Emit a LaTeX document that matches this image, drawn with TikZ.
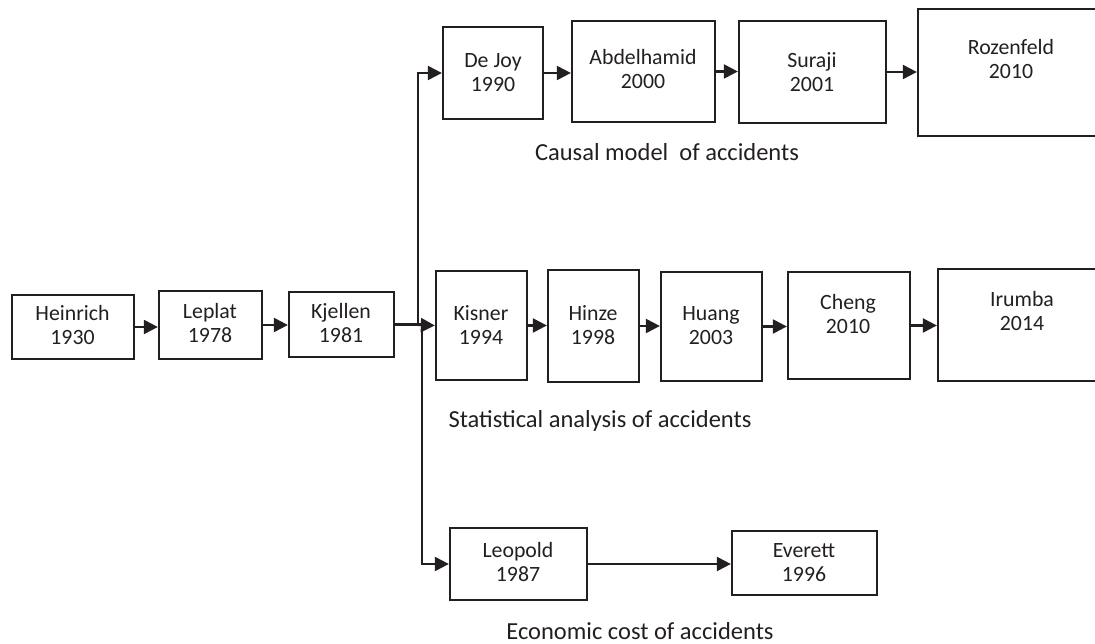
\documentclass[tikz,border=0pt]{standalone}
\usepackage{fontspec}
\setmainfont{Carlito}
\usetikzlibrary{arrows.meta}
\definecolor{ink}{HTML}{231F20}
\tikzset{
  box/.style={draw=ink, line width=2.3pt, inner sep=0pt, rectangle},
  txt/.style={text=ink, align=center, inner sep=0pt, font=\fontsize{21.8}{24}\selectfont},
  caption/.style={text=ink, anchor=base, inner sep=0pt, font=\fontsize{24.5}{28}\selectfont},
  conn/.style={draw=ink, line width=2.3pt},
  arr/.style={conn, -{Triangle[length=14pt,width=14pt]}}
}
\begin{document}
\begin{tikzpicture}[x=1pt,y=-1pt]
\useasboundingbox (0,0) rectangle (1095,644);

% main chain
\node[box, minimum width=122, minimum height=64]  (hei) at (73,327) {};
\node[box, minimum width=103, minimum height=68]  (lep) at (210.5,325) {};
\node[box, minimum width=105, minimum height=65]  (kje) at (341.5,324.5) {};

% causal model branch
\node[box, minimum width=100, minimum height=92]  (dej) at (493,73) {};
\node[box, minimum width=143, minimum height=101] (abd) at (643.5,71.5) {};
\node[box, minimum width=147, minimum height=102] (sur) at (812.5,72) {};
\node[box, minimum width=187, minimum height=127] (roz) at (1011.5,72.5) {};

% statistical analysis branch
\node[box, minimum width=91,  minimum height=109] (kis) at (481.5,325.5) {};
\node[box, minimum width=91,  minimum height=112] (hin) at (593.5,326) {};
\node[box, minimum width=101, minimum height=109] (hua) at (711.5,326.5) {};
\node[box, minimum width=122, minimum height=107] (che) at (849,325.5) {};
\node[box, minimum width=168, minimum height=112] (iru) at (1022,325) {};

% economic cost branch
\node[box, minimum width=137, minimum height=72]  (leo) at (518.5,564) {};
\node[box, minimum width=145, minimum height=64]  (eve) at (804.5,563) {};

% box texts
\node[txt] (hei-t) at (72.5,325.5) {Heinrich\\1930};
\node[txt] (lep-t) at (210,323.5)  {Leplat\\1978};
\node[txt] (kje-t) at (341,323.5)  {Kjellen\\1981};
\node[txt] (dej-t) at (493,72.5)   {De Joy\\1990};
\node[txt] (abd-t) at (643,69.5)   {Abdelhamid\\2000};
\node[txt] (sur-t) at (812,72.5)   {Suraji\\2001};
\node[txt] (roz-t) at (1011,59.5)  {Rozenfeld\\2010};
\node[txt] (kis-t) at (481,325.5)  {Kisner\\1994};
\node[txt] (hin-t) at (593,325.5)  {Hinze\\1998};
\node[txt] (hua-t) at (711,325.5)  {Huang\\2003};
\node[txt] (che-t) at (848,314.5)  {Cheng\\2010};
\node[txt] (iru-t) at (1022,311.5) {Irumba\\2014};
\node[txt] (leo-t) at (518,562.5)  {Leopold\\1987};
\node[txt] (eve-t) at (804,562.5)  {Everett\\1996};

% captions
\node[caption] (cap1) at (667,161) {Causal model~ of accidents};
\node[caption] (cap2) at (600,427) {Statistical analysis of accidents};
\node[caption] (cap3) at (640,639) {Economic cost of accidents};

% branching point after Kjellen
\coordinate (ju) at (418,325);
\coordinate (jd) at (422,325);

% connectors
\draw[arr] (hei.east) -- (hei.east -| lep.west);
\draw[arr] (lep.east) -- (lep.east -| kje.west);
\draw[conn] (kje.east) -- (kje.east -| jd);
\draw[arr] (ju) |- (dej.west);
\draw[arr] (ju) -- (kis.west);
\draw[arr] (jd) |- (leo.west);

\draw[arr] (dej.east) -- (dej.east -| abd.west);
\draw[arr] (abd.east) -- (abd.east -| sur.west);
\draw[arr] (sur.east) -- (sur.east -| roz.west);

\draw[arr] (kis.east) -- (kis.east -| hin.west);
\draw[arr] (hin.east) -- (hin.east -| hua.west);
\draw[arr] (hua.east) -- (hua.east -| che.west);
\draw[arr] (che.east) -- (che.east -| iru.west);

\draw[arr] (leo.east) -- (leo.east -| eve.west);
\end{tikzpicture}
\end{document}
